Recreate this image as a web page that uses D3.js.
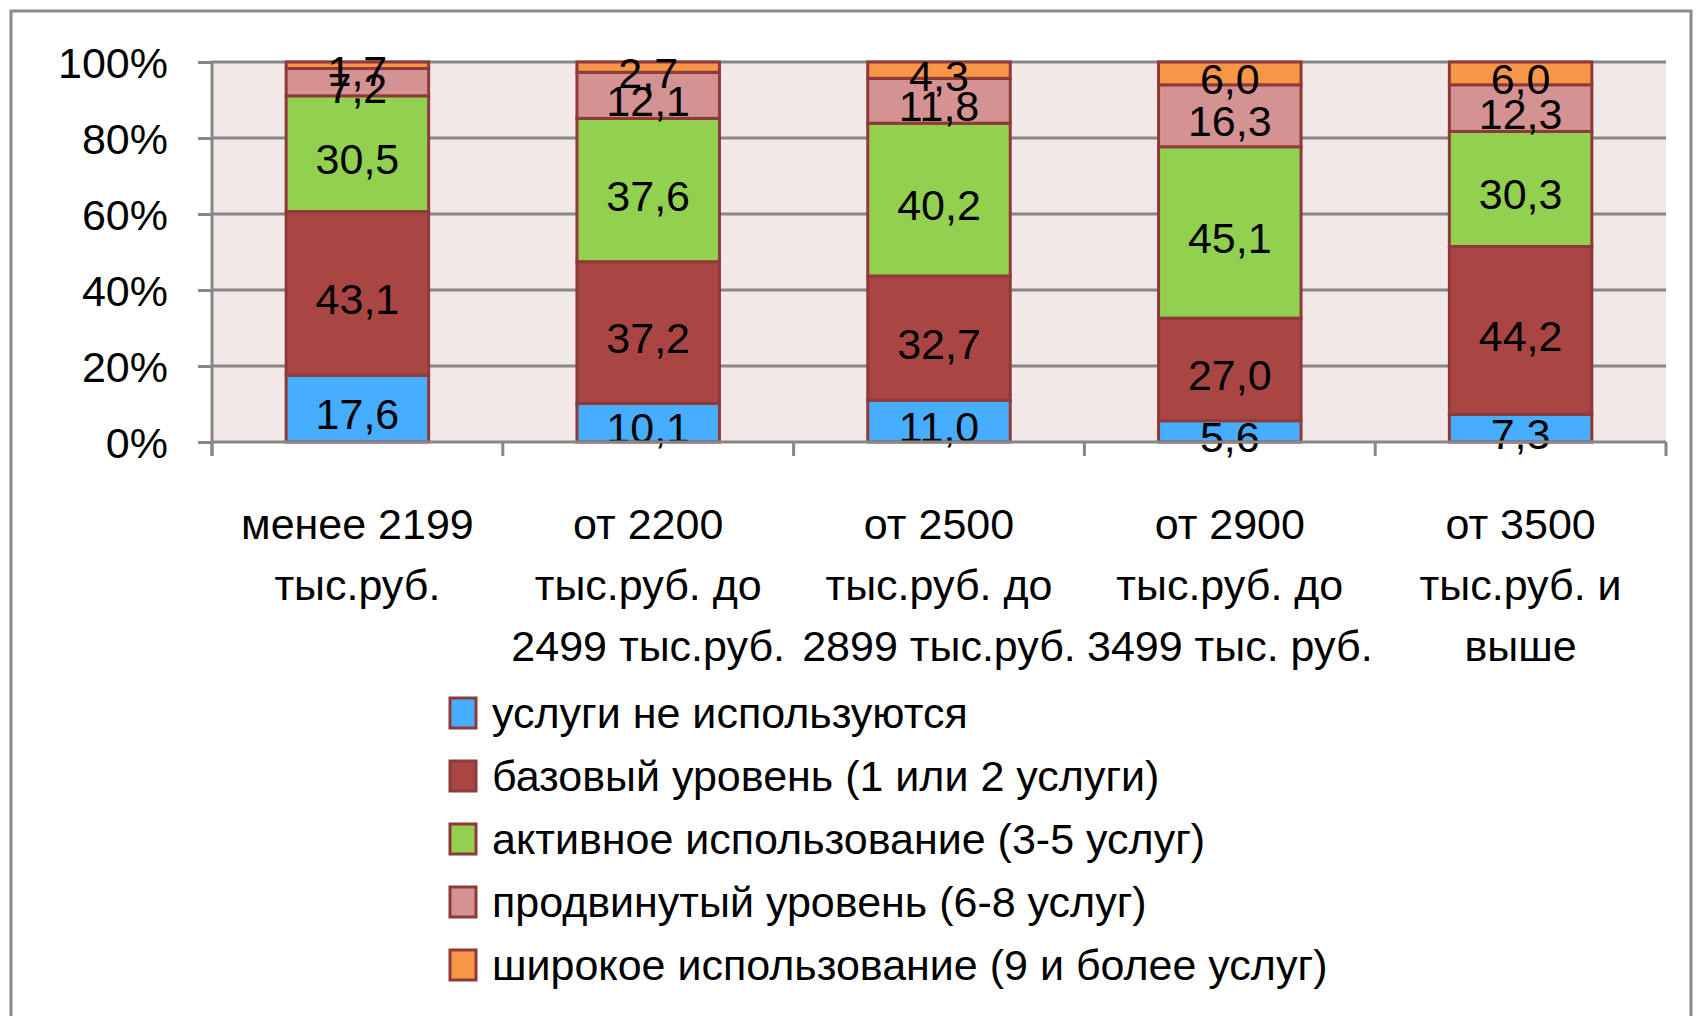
<!DOCTYPE html>
<html>
<head>
<meta charset="utf-8">
<script src="https://d3js.org/d3.v7.min.js"></script>
<style>
  body { margin: 0; background: #fff; }
  text { font-family: "Liberation Sans", Arial, sans-serif; fill: #000; }
</style>
</head>
<body>
<script>
// категории (строки подписи оси X)
var categories = [
  ["менее 2199", "тыс.руб."],
  ["от 2200", "тыс.руб. до", "2499 тыс.руб."],
  ["от 2500", "тыс.руб. до", "2899 тыс.руб."],
  ["от 2900", "тыс.руб. до", "3499 тыс. руб."],
  ["от 3500", "тыс.руб. и", "выше"]
];
var seriesNames = [
  "услуги не используются",
  "базовый уровень (1 или 2 услуги)",
  "активное использование (3-5 услуг)",
  "продвинутый уровень (6-8 услуг)",
  "широкое использование (9 и более услуг)"
];
var seriesColors = ["#47AEFF", "#A94543", "#92D050", "#D49392", "#F79646"];
var notUsed  = [17.6, 10.1, 11.0, 5.6, 7.3];
var basic    = [43.1, 37.2, 32.7, 27.0, 44.2];
var active   = [30.5, 37.6, 40.2, 45.1, 30.3];
var advanced = [7.2, 12.1, 11.8, 16.3, 12.3];
var wide     = [1.7, 2.7, 4.3, 6.0, 6.0];
var yTicks = [0, 0.2, 0.4, 0.6, 0.8, 1];

var W = 1702, H = 1016;
var svg = d3.select("body").append("svg").attr("width", W).attr("height", H);

// рамка диаграммы
svg.append("rect").attr("x", 11).attr("y", 11).attr("width", 1680).attr("height", 1040)
  .attr("fill", "none").attr("stroke", "#8a8a8a").attr("stroke-width", 3);

var pL = 212, pR = 1666, pT = 62, pB = 442;

var rows = categories.map(function (c, i) {
  return { i: i, s0: notUsed[i], s1: basic[i], s2: active[i], s3: advanced[i], s4: wide[i] };
});
var keys = ["s0", "s1", "s2", "s3", "s4"];
var stacked = d3.stack().keys(keys).offset(d3.stackOffsetExpand)(rows);

var x = d3.scaleBand().domain(d3.range(categories.length)).range([pL, pR]).paddingInner(0).paddingOuter(0);
var y = d3.scaleLinear().domain([0, 1]).range([pB, pT]);
var barW = x.bandwidth() * 0.49;

// фон области построения
svg.append("rect").attr("x", pL).attr("y", pT).attr("width", pR - pL).attr("height", pB - pT)
  .attr("fill", "#F2E8E8");

// сетка
svg.append("g").selectAll("line").data(yTicks.slice(1)).enter().append("line")
  .attr("x1", pL).attr("x2", pR)
  .attr("y1", function (d) { return y(d); }).attr("y2", function (d) { return y(d); })
  .attr("stroke", "#878787").attr("stroke-width", 3);

// столбцы
var fmt = function (v) { return d3.format(".1f")(v).replace(".", ","); };
var layers = svg.append("g").selectAll("g").data(stacked).enter().append("g")
  .attr("fill", function (d, i) { return seriesColors[i]; });
layers.selectAll("rect").data(function (d) { return d; }).enter().append("rect")
  .attr("x", function (d) { return x(d.data.i) + (x.bandwidth() - barW) / 2; })
  .attr("width", barW)
  .attr("y", function (d) { return y(d[1]); })
  .attr("height", function (d) { return y(d[0]) - y(d[1]); })
  .attr("stroke", "#8E3A39").attr("stroke-width", 3);

// подписи значений
var fs = 43;
stacked.forEach(function (layer, si) {
  svg.append("g").selectAll("text").data(layer).enter().append("text")
    .attr("x", function (d) { return x(d.data.i) + x.bandwidth() / 2; })
    .attr("y", function (d) { return (y(d[0]) + y(d[1])) / 2 + fs * 0.36 + 5; })
    .attr("text-anchor", "middle").attr("font-size", fs)
    .text(function (d) { return fmt(d.data[keys[si]]); });
});

// ось Y
var yAxis = d3.axisLeft(y).tickValues(yTicks).tickFormat(d3.format(".0%")).tickSize(14).tickPadding(30);
var gy = svg.append("g").attr("transform", "translate(" + pL + ",0)").call(yAxis);
gy.select(".domain").attr("stroke", "#878787").attr("stroke-width", 3).attr("d", "M0," + pT + "V" + (pB + 14));
gy.selectAll(".tick line").attr("stroke", "#878787").attr("stroke-width", 3);
gy.selectAll(".tick text").attr("font-size", fs).attr("font-family", "Liberation Sans, Arial, sans-serif")
  .attr("fill", "#000").attr("dy", "0.36em");

// ось X
var xTicks = d3.range(categories.length + 1).map(function (i) { return pL + i * x.bandwidth(); });
svg.append("line").attr("x1", pL).attr("x2", pR).attr("y1", pB).attr("y2", pB)
  .attr("stroke", "#878787").attr("stroke-width", 3);
svg.append("g").selectAll("line").data(xTicks).enter().append("line")
  .attr("x1", function (d) { return d; }).attr("x2", function (d) { return d; })
  .attr("y1", pB).attr("y2", pB + 14)
  .attr("stroke", "#878787").attr("stroke-width", 3);

var lineH = 61;
categories.forEach(function (c, i) {
  var t = svg.append("text").attr("text-anchor", "middle").attr("font-size", fs);
  c.forEach(function (ln, k) {
    t.append("tspan").attr("x", x(i) + x.bandwidth() / 2).attr("y", 524 + k * lineH + fs * 0.36).text(ln);
  });
});

// легенда
var legY = 713, legStep = 63;
var leg = svg.append("g").selectAll("g").data(seriesNames).enter().append("g")
  .attr("transform", function (d, i) { return "translate(450," + (legY + i * legStep) + ")"; });
leg.append("rect").attr("x", 0).attr("y", -15).attr("width", 26).attr("height", 30)
  .attr("fill", function (d, i) { return seriesColors[i]; })
  .attr("stroke", "#8E3A39").attr("stroke-width", 3);
leg.append("text").attr("x", 42).attr("y", fs * 0.36).attr("font-size", fs).text(function (d) { return d; });
</script>
</body>
</html>
